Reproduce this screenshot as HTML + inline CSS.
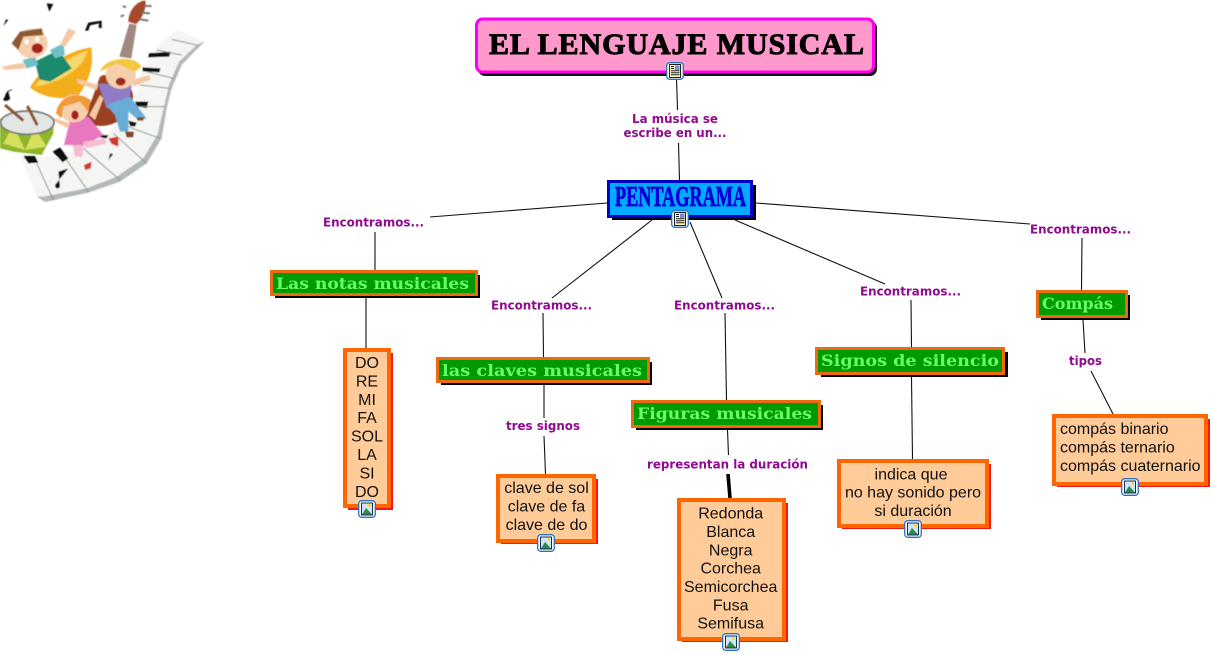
<!DOCTYPE html>
<html lang="es">
<head>
<meta charset="utf-8">
<title>El lenguaje musical</title>
<style>
html,body{margin:0;padding:0;background:#fff;width:1213px;height:654px;overflow:hidden}
svg{display:block}
.lb{font-family:"DejaVu Sans","Liberation Sans",sans-serif;font-weight:bold;font-size:12px;fill:#8f0a8f}
.gr{font-family:"DejaVu Serif","Liberation Mono",serif;font-weight:bold;font-size:15.5px;fill:#66ff66}
.bd{font-family:"Liberation Sans",Arial,sans-serif;font-size:16px;fill:#111;text-anchor:middle}
.c line{stroke:#111;stroke-width:1.1}
</style>
</head>
<body>
<svg width="1213" height="654" viewBox="0 0 1213 654" xmlns="http://www.w3.org/2000/svg">
<defs>
<filter id="b" x="-5%" y="-5%" width="110%" height="110%"><feGaussianBlur stdDeviation="1.3"/></filter>
<symbol id="ip" viewBox="0 0 18 18">
<rect x=".7" y=".7" width="16.6" height="16.6" rx="3" fill="#fff" stroke="#2f6fc0" stroke-width="1.3"/>
<rect x="3.5" y="3" width="11" height="12" fill="#cfe6f7" stroke="#14304f" stroke-width="1"/>
<circle cx="11.5" cy="5.5" r="1.6" fill="#f3d860"/>
<path d="M4 14.5 L8 8 L14 14.5Z" fill="#2f8a4a"/>
</symbol>
<symbol id="dc" viewBox="0 0 18 18">
<rect x=".7" y=".7" width="16.6" height="16.6" rx="3" fill="#fff" stroke="#2f6fc0" stroke-width="1.3"/>
<rect x="3.5" y="2.5" width="11" height="13" fill="#fbf6c0" stroke="#222" stroke-width="1"/>
<rect x="9" y="3.5" width="4.5" height="4.5" fill="#6f93c4"/>
<path d="M5 4.5H8M5 6.5H8M5 8.8H13.5M5 10.8H13.5M5 12.8H13.5" stroke="#222" stroke-width="1"/>
</symbol>
</defs>

<!-- clip art -->
<g transform="scale(.33333)" filter="url(#b)">
<path d="M530 90L615 125L590 148L545 195L515 265L500 325L485 415L440 490L360 545L265 578L135 606L110 590L60 470L170 470L250 440L330 395L395 320L425 215L480 130Z" fill="#f5f6f4"/>
<path d="M615 125L590 148L545 195L515 265L500 325L485 415L440 490L360 545L265 578L135 606L110 590L130 590L260 565L350 530L430 475L472 405L492 320L507 255L537 185L592 133Z" fill="#b4b9b7"/>
<path d="M447 160L512 155L508 170L445 172Z M428 202L482 205L478 217L428 214Z M405 305L445 305L440 325L410 318Z M385 362L410 368L405 380L390 378Z M158 455L180 442L205 475L188 487Z M70 468L105 468L115 488L85 490Z M300 405L325 405L320 415L300 412Z" fill="#111"/>
<path d="M515 118L590 135M470 150L545 165M440 215L520 235M420 255L510 265M400 320L495 320M370 375L480 415M340 400L440 490M250 445L360 540M110 490L160 600M200 480L265 575" stroke="#8b908e" stroke-width="3" fill="none"/>
<!-- guitar -->
<path d="M358 170L388 70L410 75L394 175Z" fill="#a08a80"/>
<path d="M385 65C385 30 415 0 436 2C442 25 420 65 408 72Z" fill="#a5492b"/>
<path d="M378 22L368 18M372 45L362 50M432 18L455 18M425 38L450 40M420 58L445 62" stroke="#777" stroke-width="6"/>
<path d="M300 230C330 210 410 250 398 300C380 370 320 385 280 375C240 365 260 330 275 300Z" fill="#9c4024"/>
<!-- trumpet -->
<path d="M90 262C120 205 205 150 274 142C282 200 268 240 232 292C190 297 130 297 90 262Z" fill="#f4ae1e"/>
<path d="M105 258C125 230 165 190 262 152C256 185 225 215 190 232C150 250 125 258 105 258Z" fill="#f8d86a"/>
<path d="M118 238L105 185L175 150L215 205L150 245Z" fill="#1f8a6c"/>
<!-- kid 1 -->
<path d="M68 180L105 170L115 195L80 205Z M150 150L190 130L195 165L165 175Z" fill="#6fbfc8"/>
<path d="M5 200L70 188L78 205L15 210Z M180 135L205 85L228 95L195 140Z" fill="#f5c8a4"/>
<ellipse cx="95" cy="130" rx="48" ry="44" fill="#f6cfac"/>
<path d="M35 130L60 95L125 85L130 105L70 110L55 150Z" fill="#8c5a32"/>
<ellipse cx="112" cy="145" rx="17" ry="15" fill="#a8221c"/>
<ellipse cx="80" cy="125" rx="6" ry="8" fill="#fff"/><ellipse cx="112" cy="118" rx="6" ry="8" fill="#fff"/>
<!-- kid 2 -->
<path d="M295 250L395 255L385 320L320 325Z" fill="#8f7cc4"/>
<path d="M320 315L390 290L440 355L415 360L385 335L385 395L360 395L345 345Z" fill="#69add7"/>
<path d="M230 235L295 255L290 270L235 250Z M395 240L450 225L450 240L400 260Z" fill="#f5c8a4"/>
<ellipse cx="362" cy="225" rx="45" ry="42" fill="#f6cfac"/>
<path d="M300 215C310 175 400 160 425 200L405 215L350 190Z" fill="#f2c83c"/>
<ellipse cx="362" cy="245" rx="15" ry="12" fill="#9d2a20"/>
<path d="M375 395L402 395L400 412L380 412Z M410 352L432 352L430 362L412 362Z" fill="#7a4b26"/>
<!-- kid 3 -->
<path d="M210 360L265 350L310 405L255 435L192 435Z" fill="#e878bd"/>
<path d="M218 435L250 435L248 470L225 470Z M250 425L315 415L320 430L255 445Z" fill="#f7bcd0"/>
<path d="M125 340L210 370L205 385L135 350Z M268 345L300 285L310 295L285 360Z" fill="#f5c8a4"/>
<ellipse cx="222" cy="325" rx="44" ry="42" fill="#f6cfac"/>
<path d="M168 340C175 290 230 270 272 300L265 335L240 305L190 320L185 355Z" fill="#f09a3a"/>
<ellipse cx="225" cy="345" rx="11" ry="14" fill="#a8221c"/>
<path d="M252 495L275 485L272 505L255 510Z M325 415L355 410L355 440L335 432Z" fill="#d23b2b"/>
<!-- drum -->
<path d="M0 355L0 445L40 455L125 465L160 400L160 370Z" fill="#8fb62a"/>
<path d="M10 430L40 375L75 450ZM75 450L105 385L140 440Z" fill="#d7df5f"/>
<ellipse cx="82" cy="368" rx="80" ry="35" fill="#e3e6e4" stroke="#6f7370" stroke-width="5"/>
<path d="M15 315L70 362M82 318L112 376" stroke="#8a5230" stroke-width="9"/>
<!-- notes -->
<path d="M10 300C20 275 20 270 40 268L25 275L30 295C28 305 5 305 10 295Z M255 92L265 68L305 62L305 85L295 82L298 70L270 76L265 92Z M140 10L160 12L148 35ZM10 78L25 60L18 58ZM165 555L205 505L175 515L180 560C175 570 165 565 165 555Z M325 480L340 462L330 460Z" fill="#111"/>
</g>

<!-- connectors -->
<g class="c">
<line x1="676.5" y1="78" x2="677.5" y2="110"/>
<line x1="678.5" y1="143" x2="679.5" y2="180"/>
<line x1="607" y1="203" x2="430" y2="217"/>
<line x1="375" y1="232" x2="375" y2="270"/>
<line x1="652" y1="220" x2="552" y2="298"/>
<line x1="543" y1="313" x2="543.5" y2="357"/>
<line x1="690" y1="222" x2="722" y2="298"/>
<line x1="725" y1="313" x2="726.5" y2="400"/>
<line x1="735" y1="220" x2="885" y2="284"/>
<line x1="911" y1="300" x2="911.5" y2="347"/>
<line x1="756" y1="203" x2="1030" y2="224"/>
<line x1="1082" y1="238" x2="1081.5" y2="290"/>
<line x1="366" y1="298" x2="366" y2="348"/>
<line x1="544" y1="385" x2="544" y2="418"/>
<line x1="544" y1="436" x2="545.5" y2="474"/>
<line x1="727.5" y1="430" x2="728.5" y2="455"/>
<line x1="728" y1="474" x2="730" y2="498" style="stroke:#000;stroke-width:3.6"/>
<line x1="911.5" y1="377" x2="912.5" y2="459"/>
<line x1="1083" y1="320" x2="1085" y2="353"/>
<line x1="1091" y1="371" x2="1113" y2="414"/>
</g>

<!-- title -->
<rect x="478" y="21" width="399" height="55" rx="7" fill="#111"/>
<rect x="476.5" y="19" width="397" height="53" rx="6" fill="#ff99cc" stroke="#ff00ee" stroke-width="3"/>
<text x="489" y="54" textLength="375" lengthAdjust="spacing" font-family="'Liberation Serif',serif" font-weight="bold" font-size="30" fill="#000" stroke="#000" stroke-width="1">EL LENGUAJE MUSICAL</text>
<use href="#dc" x="666" y="62" width="18" height="18"/>

<!-- pentagrama -->
<rect x="612" y="185" width="144" height="35" fill="#000"/>
<rect x="608.5" y="181.5" width="143" height="35" fill="#00aaff" stroke="#0000cc" stroke-width="3"/>
<text x="615" y="206" textLength="131" lengthAdjust="spacingAndGlyphs" font-family="'Liberation Serif',serif" font-weight="bold" font-size="28" fill="#0000dd" stroke="#0000dd" stroke-width=".8">PENTAGRAMA</text>
<use href="#dc" x="671" y="210" width="18" height="18"/>

<!-- link labels -->
<text class="lb" x="675" y="123" text-anchor="middle" textLength="86" lengthAdjust="spacingAndGlyphs">La música se</text>
<text class="lb" x="675" y="137" text-anchor="middle" textLength="103" lengthAdjust="spacingAndGlyphs">escribe en un...</text>
<text class="lb" x="323" y="226.5" textLength="101" lengthAdjust="spacingAndGlyphs">Encontramos...</text>
<text class="lb" x="491" y="309.5" textLength="101" lengthAdjust="spacingAndGlyphs">Encontramos...</text>
<text class="lb" x="674" y="309.5" textLength="101" lengthAdjust="spacingAndGlyphs">Encontramos...</text>
<text class="lb" x="860" y="295.5" textLength="101" lengthAdjust="spacingAndGlyphs">Encontramos...</text>
<text class="lb" x="1030" y="233.5" textLength="101" lengthAdjust="spacingAndGlyphs">Encontramos...</text>
<text class="lb" x="506" y="430" textLength="74" lengthAdjust="spacingAndGlyphs">tres signos</text>
<text class="lb" x="647" y="468.5" textLength="161" lengthAdjust="spacingAndGlyphs">representan la duración</text>
<text class="lb" x="1069" y="365" textLength="33" lengthAdjust="spacingAndGlyphs">tipos</text>

<!-- green nodes -->
<g>
<rect x="275" y="275" width="205" height="23" fill="#000"/>
<rect x="271.5" y="271.5" width="205" height="23" fill="#009900" stroke="#ee6a0c" stroke-width="3"/>
<text class="gr" x="276" y="289" textLength="193" lengthAdjust="spacingAndGlyphs">Las notas musicales</text>

<rect x="441" y="362" width="211" height="23" fill="#000"/>
<rect x="437.5" y="358.5" width="211" height="23" fill="#009900" stroke="#ee6a0c" stroke-width="3"/>
<text class="gr" x="442" y="376" textLength="200" lengthAdjust="spacingAndGlyphs">las claves musicales</text>

<rect x="636" y="405" width="187" height="25" fill="#000"/>
<rect x="632.5" y="401.5" width="187" height="25" fill="#009900" stroke="#ee6a0c" stroke-width="3"/>
<text class="gr" x="637" y="419" textLength="175" lengthAdjust="spacingAndGlyphs">Figuras musicales</text>

<rect x="821" y="352" width="187" height="25" fill="#000"/>
<rect x="816.5" y="348.5" width="187" height="25" fill="#009900" stroke="#ee6a0c" stroke-width="3"/>
<text class="gr" x="821" y="366" textLength="178" lengthAdjust="spacingAndGlyphs">Signos de silencio</text>

<rect x="1041" y="295" width="89" height="25" fill="#000"/>
<rect x="1037.5" y="291.5" width="89" height="25" fill="#009900" stroke="#ee6a0c" stroke-width="3"/>
<text class="gr" x="1042" y="309" textLength="71" lengthAdjust="spacingAndGlyphs">Compás</text>
</g>

<!-- orange nodes -->
<g>
<rect x="348" y="353" width="45" height="157" fill="#f01818"/>
<rect x="345" y="350" width="44" height="156" fill="#ffcc99" stroke="#ff6600" stroke-width="4"/>
<text class="bd" x="367" y="368">DO</text>
<text class="bd" x="367" y="386.4">RE</text>
<text class="bd" x="367" y="404.8">MI</text>
<text class="bd" x="367" y="423.2">FA</text>
<text class="bd" x="367" y="441.6">SOL</text>
<text class="bd" x="367" y="460">LA</text>
<text class="bd" x="367" y="478.4">SI</text>
<text class="bd" x="367" y="496.8">DO</text>
<use href="#ip" x="358" y="500" width="18" height="18"/>

<rect x="501" y="479" width="97" height="65" fill="#f01818"/>
<rect x="498" y="476" width="96" height="65" fill="#ffcc99" stroke="#ff6600" stroke-width="4"/>
<text class="bd" x="546.5" y="493">clave de sol</text>
<text class="bd" x="546.5" y="511.4">clave de fa</text>
<text class="bd" x="546.5" y="529.8">clave de do</text>
<use href="#ip" x="537" y="534" width="18" height="18"/>

<rect x="682" y="503" width="106" height="139" fill="#f01818"/>
<rect x="679" y="500" width="105" height="139" fill="#ffcc99" stroke="#ff6600" stroke-width="4"/>
<text class="bd" x="730.7" y="518.7">Redonda</text>
<text class="bd" x="730.7" y="537">Blanca</text>
<text class="bd" x="730.7" y="555.4">Negra</text>
<text class="bd" x="730.7" y="573.7">Corchea</text>
<text class="bd" x="730.7" y="592">Semicorchea</text>
<text class="bd" x="730.7" y="610.4">Fusa</text>
<text class="bd" x="730.7" y="628.7">Semifusa</text>
<use href="#ip" x="722" y="633" width="18" height="18"/>

<rect x="842" y="464" width="149" height="65" fill="#f01818"/>
<rect x="839" y="461" width="148" height="65" fill="#ffcc99" stroke="#ff6600" stroke-width="4"/>
<text class="bd" x="911" y="479.3">indica que</text>
<text class="bd" x="913" y="497.7">no hay sonido pero</text>
<text class="bd" x="913" y="516">si duración</text>
<use href="#ip" x="904" y="520" width="18" height="18"/>

<rect x="1057" y="419" width="153" height="68" fill="#f01818"/>
<rect x="1054" y="416" width="152" height="68" fill="#ffcc99" stroke="#ff6600" stroke-width="4"/>
<text class="bd" x="1060" y="434" style="text-anchor:start">compás binario</text>
<text class="bd" x="1060" y="452.4" style="text-anchor:start">compás ternario</text>
<text class="bd" x="1060" y="470.8" style="text-anchor:start">compás cuaternario</text>
<use href="#ip" x="1121" y="478" width="18" height="18"/>
</g>
</svg>
</body>
</html>
